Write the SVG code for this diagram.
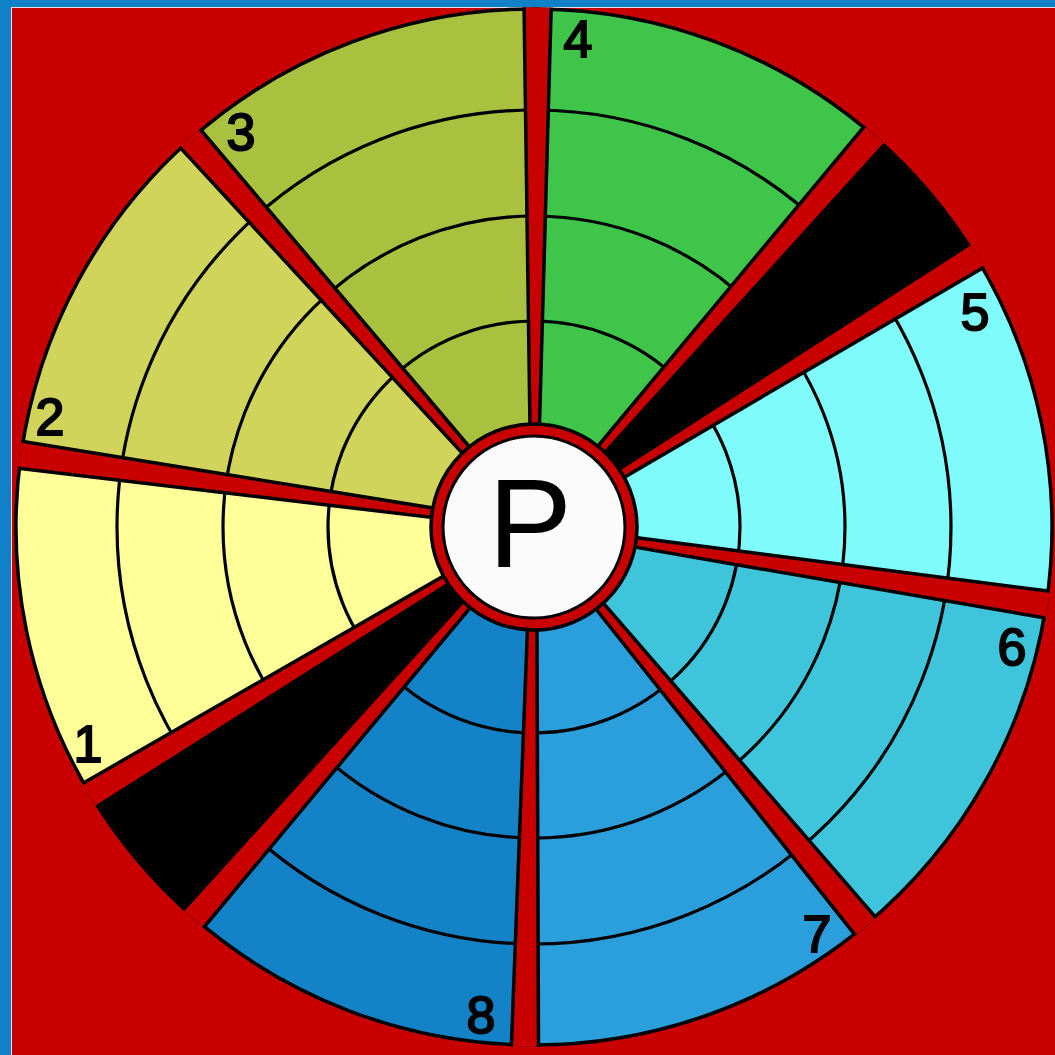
<svg xmlns="http://www.w3.org/2000/svg" xmlns:xlink="http://www.w3.org/1999/xlink" width="1055" height="1055" viewBox="0 0 1055 1055">
<style>
.w{stroke:#000;stroke-width:3.5;stroke-linejoin:round}
.ring{fill:none;stroke:#000;stroke-width:3.2}
.band{fill:#c80000;stroke:#000;stroke-width:3.5;stroke-linejoin:miter}
.lbl{font-family:"Liberation Sans",Arial,sans-serif;font-size:52px;fill:#000;stroke:#000;stroke-width:2;text-anchor:middle}
.s1{fill:#ffff99}.s2{fill:#d0d45a}.s3{fill:#a9c13e}.s4{fill:#3ec54a}
.s5{fill:#80fbfb}.s6{fill:#3ec5dc}.s7{fill:#2a9fdc}.s8{fill:#1382c6}.bk{fill:#000}
</style>
<defs>
<g id="rings">
<circle cx="534" cy="527" r="206" class="ring"/>
<circle cx="534" cy="527" r="311" class="ring"/>
<circle cx="534" cy="527" r="417" class="ring"/>
</g>
<polygon id="band" points="529.5,437 538.5,437 548,-13 520,-13"/>
<clipPath id="outer"><circle cx="534" cy="527" r="519.8"/></clipPath>
<clipPath id="c1"><path d="M534 527L90.5 794.6A518 518 0 0 1 21 454.9Z"/></clipPath>
<clipPath id="c2"><path d="M534 527L21 454.9A518 518 0 0 1 190.8 139Z"/></clipPath>
<clipPath id="c3"><path d="M534 527L190.8 139A518 518 0 0 1 537.6 9Z"/></clipPath>
<clipPath id="c4"><path d="M534 527L537.6 9A518 518 0 0 1 873.9 136.1Z"/></clipPath>
<clipPath id="c5"><path d="M534 527L975.6 256.3A518 518 0 0 1 1046.2 604.5Z"/></clipPath>
<clipPath id="c6"><path d="M534 527L1046.2 604.5A518 518 0 0 1 864.9 925.6Z"/></clipPath>
<clipPath id="c7"><path d="M534 527L864.9 925.6A518 518 0 0 1 525 1044.9Z"/></clipPath>
<clipPath id="c8"><path d="M534 527L525 1044.9A518 518 0 0 1 194.2 917.9Z"/></clipPath>
</defs>

<g id="background">
<rect x="0" y="0" width="1055" height="1055" fill="#1080c8"/>
<rect x="11" y="7" width="1044" height="1048" fill="#eadbe8"/>
<rect x="12" y="8" width="1043" height="1047" fill="#c80000"/>
</g>

<g id="sector-1">
<path class="w s1" d="M534 527L90.5 794.6A518 518 0 0 1 21 454.9Z"/>
<g clip-path="url(#c1)"><use xlink:href="#rings"/></g>
<text class="lbl" x="88" y="762">1</text>
</g>
<g id="sector-2">
<path class="w s2" d="M534 527L21 454.9A518 518 0 0 1 190.8 139Z"/>
<g clip-path="url(#c2)"><use xlink:href="#rings"/></g>
<text class="lbl" x="50" y="435">2</text>
</g>
<g id="sector-3">
<path class="w s3" d="M534 527L190.8 139A518 518 0 0 1 537.6 9Z"/>
<g clip-path="url(#c3)"><use xlink:href="#rings"/></g>
<text class="lbl" x="241" y="150">3</text>
</g>
<g id="sector-4">
<path class="w s4" d="M534 527L537.6 9A518 518 0 0 1 873.9 136.1Z"/>
<g clip-path="url(#c4)"><use xlink:href="#rings"/></g>
<text class="lbl" x="578" y="57">4</text>
</g>
<g id="black-upper">
<path class="w bk" d="M534 527L873.9 136.1A518 518 0 0 1 975.6 256.3Z"/>
</g>
<g id="sector-5">
<path class="w s5" d="M534 527L975.6 256.3A518 518 0 0 1 1046.2 604.5Z"/>
<g clip-path="url(#c5)"><use xlink:href="#rings"/></g>
<text class="lbl" x="975" y="330">5</text>
</g>
<g id="sector-6">
<path class="w s6" d="M534 527L1046.2 604.5A518 518 0 0 1 864.9 925.6Z"/>
<g clip-path="url(#c6)"><use xlink:href="#rings"/></g>
<text class="lbl" x="1012" y="665">6</text>
</g>
<g id="sector-7">
<path class="w s7" d="M534 527L864.9 925.6A518 518 0 0 1 525 1044.9Z"/>
<g clip-path="url(#c7)"><use xlink:href="#rings"/></g>
<text class="lbl" x="817" y="952">7</text>
</g>
<g id="sector-8">
<path class="w s8" d="M534 527L525 1044.9A518 518 0 0 1 194.2 917.9Z"/>
<g clip-path="url(#c8)"><use xlink:href="#rings"/></g>
<text class="lbl" x="481" y="1033">8</text>
</g>
<g id="black-lower">
<path class="w bk" d="M534 527L194.2 917.9A518 518 0 0 1 90.5 794.6Z"/>
</g>

<g id="connectors" clip-path="url(#outer)">
<use xlink:href="#band" class="band" transform="rotate(0.4 534 527)"/>
<use xlink:href="#band" class="band" transform="rotate(41 534 527)"/>
<use xlink:href="#band" class="band" transform="rotate(58.5 534 527)"/>
<use xlink:href="#band" class="band" transform="rotate(98.6 534 527)"/>
<use xlink:href="#band" class="band" transform="rotate(140.3 534 527)"/>
<use xlink:href="#band" class="band" transform="rotate(181 534 527)"/>
<use xlink:href="#band" class="band" transform="rotate(221 534 527)"/>
<use xlink:href="#band" class="band" transform="rotate(238.9 534 527)"/>
<use xlink:href="#band" class="band" transform="rotate(278 534 527)"/>
<use xlink:href="#band" class="band" transform="rotate(318.5 534 527)"/>
</g>

<g id="node-P">
<circle cx="534" cy="527" r="103" fill="#c80000" stroke="#000" stroke-width="3.5"/>
<circle cx="534" cy="527" r="91" fill="#fbfbfb" stroke="#000" stroke-width="3"/>
<text x="530" y="567" font-family="'Liberation Sans',Arial,sans-serif" font-size="126" text-anchor="middle" fill="#000">P</text>
</g>
</svg>
